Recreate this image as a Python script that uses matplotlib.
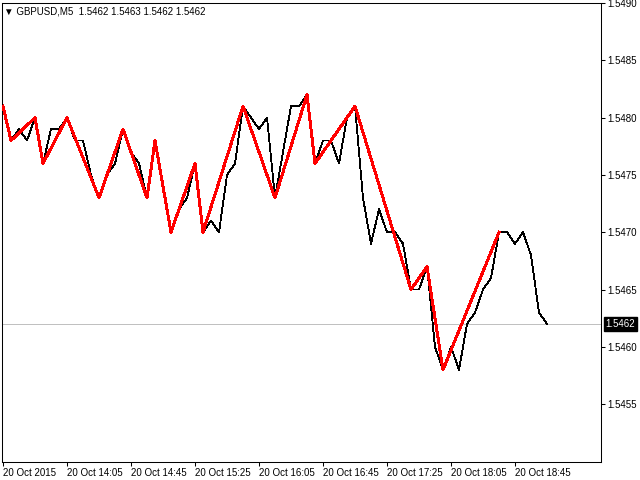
import matplotlib
matplotlib.use("Agg")
import matplotlib.pyplot as plt

# GBPUSD M5 closes, 20 Oct 2015 from 13:25, one value per bar
closes = [
    1.5481, 1.5478, 1.5479, 1.5478, 1.5480, 1.5476, 1.5479, 1.5479,
    1.5480, 1.5478, 1.5478, 1.5475, 1.5473, 1.5475, 1.5476, 1.5479,
    1.5477, 1.5476, 1.5473, 1.5478, 1.5474, 1.5470, 1.5472, 1.5473,
    1.5476, 1.5470, 1.5471, 1.5470, 1.5475, 1.5476, 1.5481, 1.5480,
    1.5479, 1.5480, 1.5473, 1.5477, 1.5481, 1.5481, 1.5482, 1.5476,
    1.5478, 1.5478, 1.5476, 1.5480, 1.5481, 1.5473, 1.5469, 1.5472,
    1.5470, 1.5470, 1.5469, 1.5465, 1.5465, 1.5467, 1.5460, 1.5458,
    1.5460, 1.5458, 1.5462, 1.5463, 1.5465, 1.5466, 1.5470, 1.5470,
    1.5469, 1.5470, 1.5468, 1.5463, 1.5462,
]

# zigzag turning points (bar index, price)
zz_idx = [0, 1, 4, 5, 8, 12, 15, 18, 19, 21, 24, 25, 30, 34, 38, 39, 44, 51, 53, 55, 62]
zz_val = [1.5481, 1.5478, 1.5480, 1.5476, 1.5480, 1.5473, 1.5479, 1.5473, 1.5478, 1.5470,
          1.5476, 1.5470, 1.5481, 1.5473, 1.5482, 1.5476, 1.5481, 1.5465, 1.5467, 1.5458,
          1.5470]

xtick_pos = [0, 8, 16, 24, 32, 40, 48, 56, 64]
xtick_labels = ["20 Oct 2015", "20 Oct 14:05", "20 Oct 14:45", "20 Oct 15:25",
                "20 Oct 16:05", "20 Oct 16:45", "20 Oct 17:25", "20 Oct 18:05",
                "20 Oct 18:45"]
yticks = [1.5455, 1.5460, 1.5465, 1.5470, 1.5475, 1.5480, 1.5485, 1.5490]

last_price = 1.5462
title = "\u25bc GBPUSD,M5  1.5462 1.5463 1.5462 1.5462"

fam = ["Liberation Sans", "DejaVu Sans"]
fs = 7

fig = plt.figure(figsize=(6.4, 4.8), dpi=100)
ax = fig.add_axes([2 / 640, 18.5 / 480, 599 / 640, 458.5 / 480])

bars = list(range(len(closes)))
ax.axhline(last_price, color="#c0c0c0", lw=0.6, antialiased=False, zorder=1)
ax.plot(bars, closes, color="black", lw=0.6, antialiased=False, zorder=2)
ax.plot(zz_idx, zz_val, color="#ff0000", lw=1.4, antialiased=False, zorder=3)

ax.set_xlim(-0.125, 74.75)
ax.set_ylim(1.5450, 1.5490)

ax.yaxis.tick_right()
ax.set_yticks(yticks)
ax.set_yticklabels([f"{v:.4f}" for v in yticks], fontsize=fs, family=fam)
ax.set_xticks(xtick_pos)
ax.set_xticklabels(xtick_labels, fontsize=fs, family=fam, ha="left")
ax.tick_params(axis="both", direction="out", length=3, width=0.75, pad=1.5, colors="black")

for s in ax.spines.values():
    s.set_linewidth(0.75)
    s.set_color("black")

ax.annotate(f"{last_price:.4f}", xy=(1, last_price), xycoords=("axes fraction", "data"),
            xytext=(3.2, 0), textcoords="offset points", va="center", ha="left",
            fontsize=fs, family=fam, color="white",
            bbox=dict(boxstyle="square,pad=0.2", fc="black", ec="black"))

fig.text(4 / 640, 1 - 11 / 480, title, va="center", ha="left", fontsize=fs, family=fam)

fig.savefig("out.png", dpi=100, facecolor="white")
